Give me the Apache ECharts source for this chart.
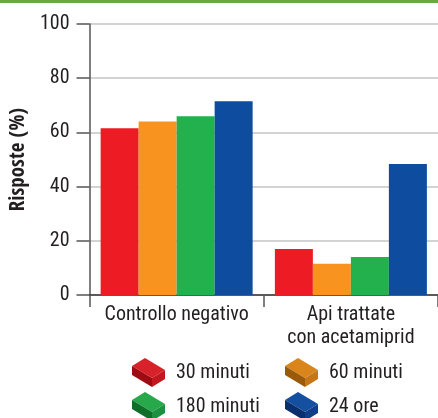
<!DOCTYPE html>
<html>
<head>
<meta charset="utf-8">
<style>
  html, body { margin: 0; padding: 0; background: #fff; }
  #chart { width: 438px; height: 418px; }
</style>
<script src="https://cdn.jsdelivr.net/npm/echarts@6/dist/echarts.min.js"></script>
</head>
<body>
<div id="chart"></div>
<script>
// Groups on the category axis
var categories = ['Controllo negativo', 'Api trattate\ncon acetamiprid'];
// Response percentages per exposure time
var series30min = [61.5, 17];
var series60min = [64, 11.5];
var series180min = [66, 14];
var series24h = [71.5, 48.3];
var seriesNames = ['30 minuti', '60 minuti', '180 minuti', '24 ore'];
var yTicks = [0, 20, 40, 60, 80, 100];

var FONT = '"Roboto Condensed", "DejaVu Sans Condensed", sans-serif';
var TITLE_FONT = '"Open Sans Condensed", "Roboto Condensed", sans-serif';
var TEXT = '#231f20';

// Isometric brick icon for the legend: top, front and end faces
function brick(top, front, side) {
  var svg = '<svg xmlns="http://www.w3.org/2000/svg" width="33" height="29" viewBox="0 0 33 29">' +
    '<polygon points="0,8 13,0 33,12 20,20" fill="' + top + '"/>' +
    '<polygon points="0,8 20,20 20,29 0,17" fill="' + front + '"/>' +
    '<polygon points="20,20 33,12 33,21 20,29" fill="' + side + '"/>' +
    '</svg>';
  return 'image://data:image/svg+xml;charset=utf-8,' + encodeURIComponent(svg);
}

var colors = ['#ed1c24', '#f7931e', '#23b14d', '#0d4c9f'];
var icons = [
  brick('#d8222b', '#9e0b12', '#c4161e'),
  brick('#d9851c', '#9a5a0a', '#c6761a'),
  brick('#27a84a', '#0f6e2a', '#1e9140'),
  brick('#154fa0', '#0a2f6e', '#103f88')
];

function barSeries(i, data) {
  return {
    name: seriesNames[i],
    type: 'bar',
    data: data,
    barWidth: 38,
    barGap: '0%',
    itemStyle: { color: colors[i] },
    emphasis: { disabled: true }
  };
}

var legendText = { fontFamily: FONT, fontSize: 20, color: TEXT, padding: [0, 0, 0, 6] };

function legendColumn(left, a, b) {
  return {
    orient: 'vertical',
    left: left, top: 358, height: 80,
    padding: 0,
    itemWidth: 33, itemHeight: 29, itemGap: 5,
    data: [
      { name: seriesNames[a], icon: icons[a] },
      { name: seriesNames[b], icon: icons[b] }
    ],
    textStyle: legendText,
    selectedMode: false
  };
}

var chart = echarts.init(document.getElementById('chart'), null, { renderer: 'canvas' });
chart.setOption({
  animation: false,
  graphic: [{
    type: 'rect',
    shape: { x: 0, y: 0, width: 438, height: 3 },
    style: { fill: '#6aa846' }
  }],
  grid: { left: 89, top: 24, right: -5, bottom: 123 },
  legend: [legendColumn(132, 0, 2), legendColumn(285, 1, 3)],
  xAxis: {
    type: 'category',
    data: categories,
    axisLine: { lineStyle: { color: '#333', width: 1.5 } },
    axisTick: { show: true, length: 12, lineStyle: { color: '#555', width: 1.5 } },
    axisLabel: { interval: 0, fontFamily: FONT, fontSize: 20, color: TEXT, margin: 8, lineHeight: 23 }
  },
  yAxis: {
    type: 'value',
    min: yTicks[0],
    max: yTicks[yTicks.length - 1],
    interval: 20,
    name: 'Risposte (%)',
    nameLocation: 'middle',
    nameGap: 50,
    nameTextStyle: { fontFamily: TITLE_FONT, fontSize: 21, fontWeight: 'bold', color: TEXT },
    axisLine: { show: true, lineStyle: { color: '#555', width: 1.5 } },
    axisTick: { show: true, length: 13, lineStyle: { color: '#555', width: 1.5 } },
    axisLabel: { fontFamily: FONT, fontSize: 20, color: TEXT, margin: 20 },
    splitLine: { show: true, lineStyle: { color: '#c4c4c4', width: 1.5 } }
  },
  series: [
    barSeries(0, series30min),
    barSeries(1, series60min),
    barSeries(2, series180min),
    barSeries(3, series24h)
  ]
});
</script>
</body>
</html>
